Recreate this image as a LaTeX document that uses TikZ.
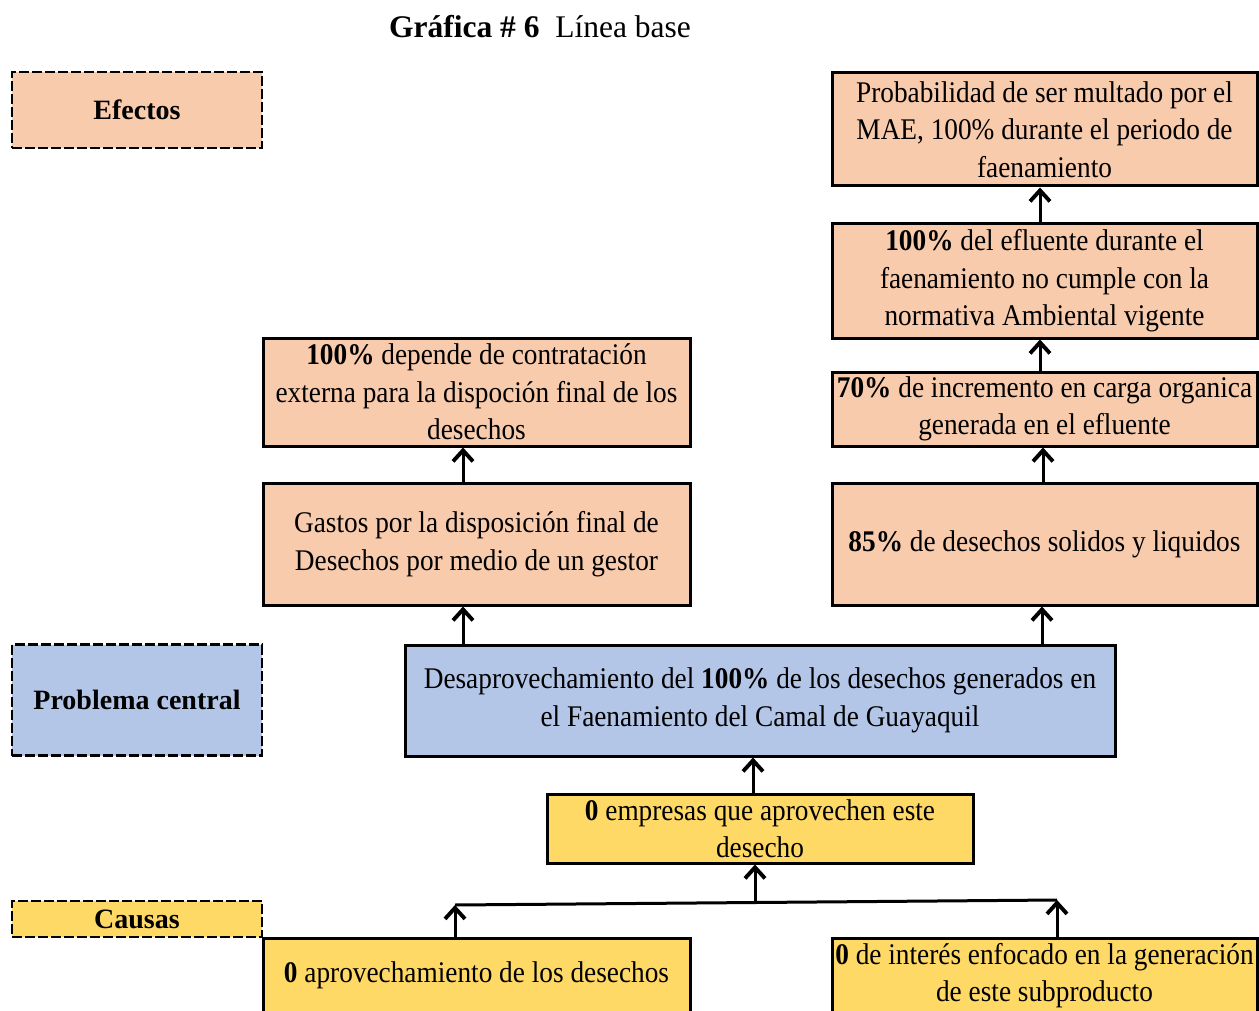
\documentclass[tikz,border=0pt]{standalone}
\usepackage{fontspec}
\setmainfont{Liberation Serif}[FakeStretch=0.91]
\newfontfamily\plainserif{Liberation Serif}
\usetikzlibrary{arrows.meta}
\definecolor{efecto}{HTML}{F8CBAD}
\definecolor{problema}{HTML}{B4C6E7}
\definecolor{causa}{HTML}{FFD966}
\tikzset{
  box/.style={draw=black, line width=3pt, inner sep=0pt, align=center,
    font=\fontsize{30}{37.5}\selectfont},
  tag/.style={draw=black, line width=2.8pt, dash pattern=on 10pt off 3pt,
    inner sep=0pt, align=center, font=\plainserif\fontsize{28}{30}\selectfont\bfseries},
  arr/.style={line width=3pt, -{Straight Barb[length=11pt,width=20pt,line width=0pt 1.3]}},
  link/.style={line width=3pt}
}
\newcommand{\boxat}[7]{% name, x1, y1, x2, y2, fill, text
  \node[box, fill=#6, minimum width={#4-#2}, minimum height={#5-#3}]
    (#1) at ({(#2+#4)/2},{(#3+#5)/2}) {#7};}
\begin{document}
\begin{tikzpicture}[x=1pt,y=-1pt]
\useasboundingbox (0,0) rectangle (1259,1011);
\fill[white] (0,0) rectangle (1259,1011);
\clip (0,0) rectangle (1259,1011);

% title
\node[font=\plainserif\fontsize{31.5}{34}\selectfont] (title) at (540,27)
  {\textbf{Gráfica \# 6}\ \ Línea base};

% row labels
\node[tag, fill=efecto, minimum width=250, minimum height=76] (efectos) at (137,110) {Efectos};
\node[tag, fill=problema, minimum width=250, minimum height=111] (problema) at (137,700) {Problema central};
\node[tag, fill=causa, minimum width=250, minimum height=36] (causas) at (137,919) {Causas};

% effects, right column
\boxat{e1}{832}{73}{1257}{186}{efecto}{Probabilidad de ser multado por el\\MAE, 100\% durante el periodo de\\faenamiento}
\boxat{e2}{832}{224}{1257}{338}{efecto}{\textbf{100\%} del efluente durante el\\faenamiento no cumple con la\\normativa Ambiental vigente}
\boxat{e3}{832}{372}{1257}{446}{efecto}{\textbf{70\%} de incremento en carga organica\\generada en el efluente}
\boxat{e4}{832}{483}{1257}{605}{efecto}{\textbf{85\%} de desechos solidos y liquidos}

% effects, left column
\boxat{e5}{263}{338}{690}{446}{efecto}{\textbf{100\%} depende de contratación\\externa para la dispoción final de los\\desechos}
\boxat{e6}{263}{483}{690}{605}{efecto}{Gastos por la disposición final de\\Desechos por medio de un gestor}

% central problem
\boxat{pc}{405}{645}{1115}{756}{problema}{Desaprovechamiento del \textbf{100\%} de los desechos generados en\\el Faenamiento del Camal de Guayaquil}

% causes
\boxat{c1}{547}{794}{973}{863}{causa}{\textbf{0} empresas que aprovechen este\\desecho}
\boxat{c2}{263}{938}{690}{1013}{causa}{\textbf{0} aprovechamiento de los desechos}
\boxat{c3}{832}{938}{1257}{1013}{causa}{\textbf{0} de interés enfocado en la generación\\de este subproducto}

% connectors between effects
\draw[arr] ([xshift=-4.5pt]e2.north) -- ([xshift=-4.5pt]e1.south);
\draw[arr] ([xshift=-4.5pt]e3.north) -- ([xshift=-4.5pt]e2.south);
\draw[arr] ([xshift=-1.5pt]e4.north) -- ([xshift=-1.5pt]e3.south);
\draw[arr] ([xshift=-2.5pt]pc.north -| e4.north) -- ([xshift=-2.5pt]e4.south);
\draw[arr] ([xshift=-13.5pt]e6.north) -- ([xshift=-13.5pt]e5.south);
\draw[arr] ([xshift=-13.5pt]e6.south |- pc.north) -- ([xshift=-13.5pt]e6.south);

% causes up to the central problem
\draw[arr] ([xshift=-7pt]c1.north) -- ([xshift=-7pt]c1.north |- pc.south);

% joining line of the lower causes
\coordinate (jl) at (455,905);
\coordinate (jr) at (1057,900);
\coordinate (jm) at (755,902.5);
\draw[link] (jl) -- (jr);
\draw[arr] (jl |- c2.north) -- (jl);
\draw[arr] (jr |- c3.north) -- (jr);
\draw[arr] (jm) -- (jm |- c1.south);
\end{tikzpicture}
\end{document}
